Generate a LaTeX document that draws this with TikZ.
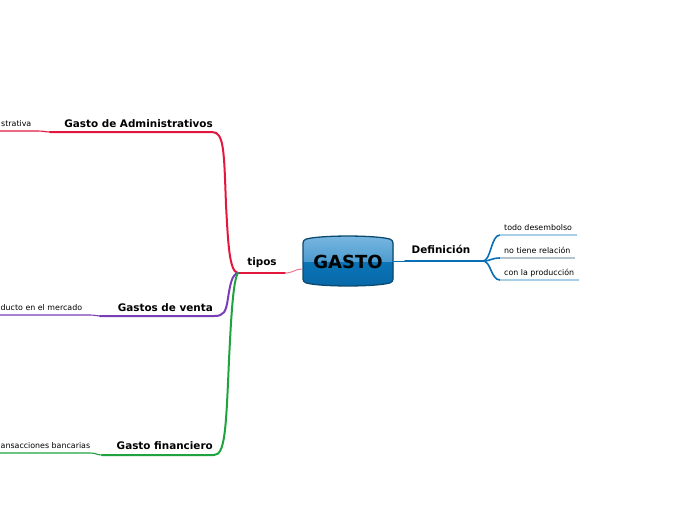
\documentclass[tikz,border=0pt]{standalone}
\usepackage{fontspec}
\setmainfont{DejaVu Sans}
\definecolor{cred}{HTML}{E3173E}
\definecolor{cpink}{HTML}{EE7A8E}
\definecolor{cpurple}{HTML}{7A3DB8}
\definecolor{cgreen}{HTML}{1FA33F}
\definecolor{cblue}{HTML}{0A6EB4}
\definecolor{clblue}{HTML}{A9CFE8}
\definecolor{cgblue}{HTML}{B4C4CE}
\definecolor{boxtop}{HTML}{7DBAE2}
\definecolor{boxmid}{HTML}{4D9BD0}
\definecolor{boxlow}{HTML}{0B74B6}
\definecolor{boxbot}{HTML}{0766A6}
\definecolor{boxline}{HTML}{0D4A70}
\begin{document}
\begin{tikzpicture}[x=1pt,y=-1pt,
  bold/.style={font=\fontsize{10.4}{12}\selectfont\bfseries, inner sep=0pt},
  small/.style={font=\fontsize{7.9}{9}\selectfont, inner sep=0pt},
  mainline/.style={line width=2pt, line cap=round},
  subline/.style={line width=1.1pt},
  branchline/.style={line width=1.6pt}]
\useasboundingbox (0,0) rectangle (696,520);
\clip (0,0) rectangle (696,520);

% central box
\def\boxpath{(303,240) .. controls (320,235) and (376,235) .. (393,240) -- (393,282) .. controls (376,287) and (320,287) .. (303,282) -- cycle}
\begin{scope}
  \clip[rounded corners=3pt] \boxpath;
  \fill[top color=boxtop, bottom color=boxmid] (300,233) rectangle (397,262);
  \fill[top color=boxlow, bottom color=boxbot] (300,262) rectangle (397,290);
\end{scope}
\draw[boxline, line width=1.3pt, rounded corners=3pt] \boxpath;
\node[font=\fontsize{18}{20}\selectfont\bfseries, inner sep=0pt] (gasto) at (348,262) {GASTO};

% coordinates
\coordinate (J) at (238,273);
\coordinate (T) at (285,273);
\coordinate (Gw) at (302,269);
\coordinate (Ge) at (394,261);
\coordinate (D0) at (405,261);
\coordinate (Bj) at (483,261);
\coordinate (ra) at (50,132);
\coordinate (pa) at (100,316);
\coordinate (ga) at (102,455);

% left side: tipos
\draw[mainline, cred] (J) -- (T);
\draw[line width=1pt, cpink] (T) .. controls (293,273) and (295,269) .. (Gw);
\node[bold, anchor=base] (tipos) at (262,265) {tipos};

% red branch
\draw[mainline, cred] (J) .. controls (229,272) and (228,240) .. (226,205)
   .. controls (224,150) and (224,132) .. (212,132) -- (ra);
\draw[subline, cred] (ra) .. controls (45,132) and (44,131) .. (38,131) -- (0,131);
\node[bold, anchor=base east] (adm) at (213,127) {Gasto de Administrativos};
\node[small, anchor=base west] (admt) at (1,126) {strativa};

% purple branch
\draw[mainline, cpurple] (J) .. controls (232,274) and (230,285) .. (228,298)
   .. controls (226,312) and (224,316) .. (214,316) -- (pa);
\draw[subline, cpurple] (pa) .. controls (96,316) and (95,315) .. (90,315) -- (0,315);
\node[bold, anchor=base east] (ven) at (213,311) {Gastos de venta};
\node[small, anchor=base west] (vent) at (0.5,310) {ducto en el mercado};

% green branch
\draw[mainline, cgreen] (J) .. controls (233,280) and (231,320) .. (229,360)
   .. controls (226,430) and (225,455) .. (214,455) -- (ga);
\draw[subline, cgreen] (ga) .. controls (97,455) and (96,453) .. (90,453) -- (0,453);
\node[bold, anchor=base east] (fin) at (213,449) {Gasto financiero};
\node[small, anchor=base west] (fint) at (0.5,448) {ansacciones bancarias};

% right side: definicion
\draw[line width=1pt, cblue] (Ge) -- (D0);
\draw[mainline, cblue] (D0) -- (Bj);
\node[bold, anchor=base] (def) at (441,253) {Definición};
\coordinate (b1) at (500,235);
\coordinate (b2) at (500,258);
\coordinate (b3) at (500,280);
\draw[branchline, cblue] (Bj) .. controls (491,261) and (491,235) .. (b1);
\draw[branchline, cblue] (Bj) .. controls (491,261) and (491,258) .. (b2);
\draw[branchline, cblue] (Bj) .. controls (491,261) and (491,280) .. (b3);
\draw[subline, clblue] (b1) -- (577,235);
\draw[subline, cgblue] (b2) -- (575,258);
\draw[subline, clblue] (b3) -- (579,280);
\node[small, anchor=base west] (d1) at (504,230) {todo desembolso};
\node[small, anchor=base west] (d2) at (504,253) {no tiene relación};
\node[small, anchor=base west] (d3) at (504,275) {con la producción};
\end{tikzpicture}
\end{document}
